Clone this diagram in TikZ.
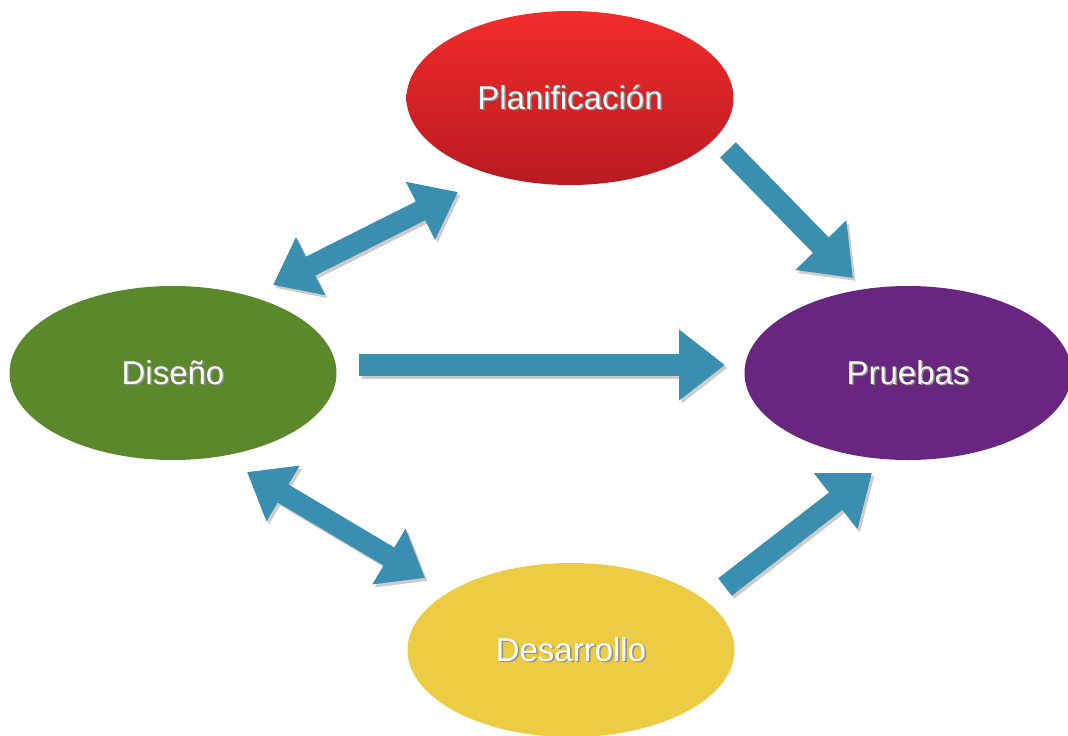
\documentclass[tikz,border=0pt]{standalone}
\usepackage{fontspec}
\setmainfont{Liberation Sans}
\usetikzlibrary{shapes.geometric,arrows.meta,calc}
\definecolor{arrowblue}{RGB}{58,142,176}
\definecolor{redtop}{RGB}{242,44,44}
\definecolor{redbot}{RGB}{184,26,32}
\definecolor{greenfill}{RGB}{92,136,44}
\definecolor{purplefill}{RGB}{104,38,128}
\definecolor{yellowfill}{RGB}{236,204,66}
\newcommand\shtext[1]{\leavevmode\rlap{\hspace{1.5pt}\raisebox{-1.5pt}{\color{black!45}#1}}#1}
\tikzset{
  phase/.style={ellipse, minimum width=327pt, minimum height=174pt, inner sep=0pt,
    text=white, font=\fontsize{33}{38}\selectfont},
  fat/.style={draw=arrowblue, line width=22pt,
    arrows={-{Triangle[length=46pt,width=68pt]}}},
  fatboth/.style={draw=arrowblue, line width=21pt,
    arrows={{Triangle[length=42pt,width=62pt]}-{Triangle[length=42pt,width=62pt]}}},
}
\begin{document}
\begin{tikzpicture}[x=1pt,y=-1pt]
\useasboundingbox (0,0) rectangle (1068,736);
% nodes
\node[phase, top color=redtop, bottom color=redbot] (plan) at (570,98) {\shtext{Planificación}};
\node[phase, fill=greenfill] (dis) at (173,373) {\shtext{Diseño}};
\node[phase, fill=purplefill] (prue) at (908,373) {\shtext{Pruebas}};
\node[phase, fill=yellowfill] (des) at (571,650) {\shtext{Desarrollo}};
% shadows of connectors
\begin{scope}[transform canvas={shift={(2.5pt,-3pt)}}]
\draw[fatboth, draw=black!20] ([shift={(100,-88)}]dis.center) -- ([shift={(-112,94)}]plan.center);
\draw[fat, draw=black!20] ([shift={(158,52)}]plan.center) -- ([shift={(-55,-95)}]prue.center);
\draw[fat, draw=black!20] ([shift={(186,-8)}]dis.center) -- ([shift={(-183,-8)}]prue.center);
\draw[fatboth, draw=black!20] ([shift={(74,99)}]dis.center) -- ([shift={(-146,-72)}]des.center);
\draw[fat, draw=black!20] ([shift={(154,-63)}]des.center) -- ([shift={(-36,100)}]prue.center);
\end{scope}
% connectors
\draw[fatboth] ([shift={(100,-88)}]dis.center) -- ([shift={(-112,94)}]plan.center);
\draw[fat] ([shift={(158,52)}]plan.center) -- ([shift={(-55,-95)}]prue.center);
\draw[fat] ([shift={(186,-8)}]dis.center) -- ([shift={(-183,-8)}]prue.center);
\draw[fatboth] ([shift={(74,99)}]dis.center) -- ([shift={(-146,-72)}]des.center);
\draw[fat] ([shift={(154,-63)}]des.center) -- ([shift={(-36,100)}]prue.center);
\end{tikzpicture}
\end{document}
